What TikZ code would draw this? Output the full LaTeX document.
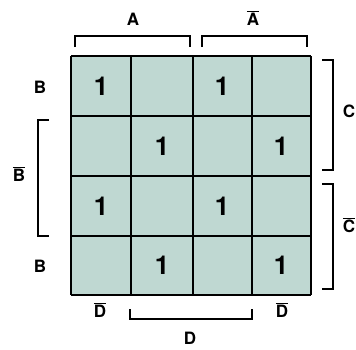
\documentclass[tikz,border=0pt]{standalone}
\usepackage{fontspec}
\setmainfont{TeX Gyre Heros}
\usetikzlibrary{calc}
\definecolor{kmap}{HTML}{BFD8D2}
\newcommand{\nbar}[1]{$\overline{\mbox{#1}}$}
\tikzset{
  one/.style={font=\fontsize{26}{26}\bfseries\selectfont},
  lbl/.style={font=\fontsize{17}{17}\bfseries\selectfont},
  brk/.style={draw, line width=1.3pt},
}

\begin{document}
\begin{tikzpicture}[x=1pt,y=-1pt]
            \useasboundingbox (0,0) rectangle (356,349);
            % 表
            \path[fill=kmap](71,56) rectangle (311,295);
            \foreach \x in {71,131,193,252,311}
              \path[draw, line width=1.7pt](\x,56) to (\x,295);
            \foreach \y in {56,116,176,236,295}
              \path[draw, line width=1.7pt](71,\y) to (311,\y);

            % 1
            \node[one] (c11) at (101,86) {1};
            \node[one] (c13) at (222,86) {1};
            \node[one] (c22) at (162,146) {1};
            \node[one] (c24) at (281,146) {1};
            \node[one] (c31) at (101,206) {1};
            \node[one] (c33) at (222,206) {1};
            \node[one] (c42) at (162,265) {1};
            \node[one] (c44) at (281,265) {1};

            % 上
            \node[lbl] (a) at (133,19) {A};
            \node[lbl] (na) at (253,18) {\nbar{A}};
            \path[brk](75,47) to (75,36) to (190,36) to (190,47);
            \path[brk](202,47) to (202,36) to (307,36) to (307,47);

            % 左
            \node[lbl] (b1) at (40,87) {B};
            \node[lbl] (nb) at (19,174) {\nbar{B}};
            \node[lbl] (b2) at (40,266) {B};
            \path[brk](49,120) to (38,120) to (38,236) to (49,236);

            % 右
            \node[lbl] (c) at (349,111) {C};
            \node[lbl] (nc) at (349,225) {\nbar{C}};
            \path[brk](322,60) to (333,60) to (333,170) to (322,170);
            \path[brk](322,184) to (333,184) to (333,289) to (322,289);

            % 下
            \node[lbl] (nd1) at (100,310) {\nbar{D}};
            \node[lbl] (nd2) at (282,310) {\nbar{D}};
            \node[lbl] (d) at (190,338) {D};
            \path[brk](130,309) to (130,319) to (252,319) to (252,309);
        \end{tikzpicture}
\end{document}
